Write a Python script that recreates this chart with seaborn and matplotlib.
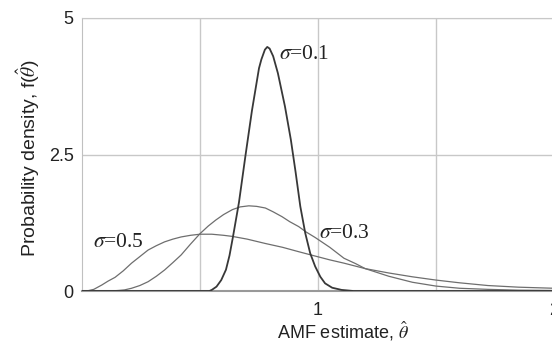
import pandas as pd
import matplotlib
matplotlib.use("Agg")
import matplotlib.pyplot as plt
import seaborn as sns

# values
theta_s01 = [0.00, 0.50, 0.54, 0.55, 0.57, 0.59, 0.61, 0.625, 0.64, 0.665, 0.693, 0.72,
             0.75, 0.76, 0.775, 0.785, 0.795, 0.81, 0.83, 0.86, 0.885, 0.905, 0.925,
             0.946, 0.967, 0.988, 1.01, 1.03, 1.06, 1.10, 1.15, 2.00]
dens_s01 = [0.0, 0.0, 0.0, 0.02, 0.08, 0.2, 0.39, 0.65, 1.0, 1.62, 2.49, 3.3,
            4.08, 4.24, 4.42, 4.47, 4.44, 4.3, 3.99, 3.38, 2.77, 2.18, 1.55,
            1.06, 0.69, 0.45, 0.26, 0.14, 0.06, 0.02, 0.0, 0.0]

theta_s03 = [0.00, 0.12, 0.155, 0.18, 0.21, 0.245, 0.28, 0.315, 0.35, 0.385, 0.42, 0.46,
             0.50, 0.535, 0.567, 0.60, 0.637, 0.67, 0.707, 0.74, 0.777, 0.81, 0.848,
             0.88, 0.918, 0.95, 0.988, 1.05, 1.11, 1.16, 1.20, 1.25, 1.30, 1.40,
             1.50, 1.60, 1.72, 1.85, 2.00]
dens_s03 = [0.0, 0.0, 0.01, 0.02, 0.05, 0.10, 0.17, 0.27, 0.385, 0.52, 0.66, 0.86,
            1.05, 1.19, 1.30, 1.40, 1.49, 1.54, 1.56, 1.55, 1.52, 1.45, 1.36,
            1.27, 1.18, 1.08, 0.98, 0.80, 0.60, 0.50, 0.41, 0.34, 0.27, 0.16,
            0.09, 0.05, 0.03, 0.015, 0.01]

theta_s05 = [0.00, 0.02, 0.05, 0.084, 0.11, 0.14, 0.175, 0.21, 0.245, 0.28, 0.315, 0.35,
             0.385, 0.42, 0.46, 0.50, 0.55, 0.60, 0.637, 0.70, 0.777, 0.85, 0.918,
             0.988, 1.05, 1.11, 1.20, 1.30, 1.40, 1.50, 1.60, 1.72, 1.85, 2.00]
dens_s05 = [0.0, 0.0, 0.03, 0.11, 0.18, 0.25, 0.37, 0.51, 0.63, 0.75, 0.83, 0.90,
            0.95, 0.99, 1.02, 1.04, 1.04, 1.02, 1.00, 0.95, 0.87, 0.80, 0.72,
            0.64, 0.57, 0.51, 0.41, 0.33, 0.26, 0.20, 0.15, 0.10, 0.07, 0.05]

curve_labels = ["0.1", "0.3", "0.5"]
label_pos = [(0.834, 4.33), (1.006, 1.06), (0.046, 0.88)]

x_ticks = [0.5, 1, 1.5, 2]
x_ticklabels = ["", "1", "", "2"]
y_ticks = [0, 2.5, 5]
y_ticklabels = ["0", "2.5", "5"]

sns.set_style("white")
plt.rcParams['font.family'] = ['Liberation Sans', 'DejaVu Sans']
plt.rcParams['mathtext.fontset'] = 'stix'

fig = plt.figure(figsize=(5.52, 3.43), dpi=100)
ax = fig.add_axes([82 / 552, 52 / 343, 472 / 552, 273 / 343])

df01 = pd.DataFrame({'theta': theta_s01, 'dens': dens_s01})
df03 = pd.DataFrame({'theta': theta_s03, 'dens': dens_s03})
df05 = pd.DataFrame({'theta': theta_s05, 'dens': dens_s05})

sns.lineplot(data=df05, x='theta', y='dens', ax=ax, color='#6e6e6e', lw=0.9, sort=False, zorder=3)
sns.lineplot(data=df03, x='theta', y='dens', ax=ax, color='#6e6e6e', lw=0.9, sort=False, zorder=3)
sns.lineplot(data=df01, x='theta', y='dens', ax=ax, color='#383838', lw=1.3, sort=False, zorder=4)

for lab, (tx, ty) in zip(curve_labels, label_pos):
    ax.text(tx, ty, r'$\sigma$=' + lab, fontsize=15.5, family='Liberation Serif',
            va='center', ha='left', color='#222222')

ax.set_xlim(0, 2)
ax.set_ylim(0, 5)
ax.set_xticks(x_ticks)
ax.set_xticklabels(x_ticklabels)
ax.set_yticks(y_ticks)
ax.set_yticklabels(y_ticklabels)
ax.tick_params(axis='x', length=4, width=1, color='#999999', pad=4, labelsize=13, labelcolor='#222222')
ax.tick_params(axis='y', length=3, width=1, color='#bbbbbb', pad=3, labelsize=13, labelcolor='#222222')

ax.grid(True, color='#c8c8c8', lw=1.0)
ax.set_axisbelow(True)
ax.spines['right'].set_visible(False)
ax.spines['top'].set_color('#c8c8c8')
ax.spines['left'].set_color('#c0c0c0')
ax.spines['bottom'].set_color('#999999')
ax.spines['bottom'].set_linewidth(1.5)
ax.set_xlabel('')
ax.set_ylabel('')

fig.text(343 / 552, 1 - 331 / 343, r'AMF estimate, $\hat{\theta}$', fontsize=13,
         ha='center', va='center', color='#222222')
fig.text(28 / 552, 1 - 158 / 343, r'Probability density, f($\hat{\theta}$)', fontsize=14,
         ha='center', va='center', rotation=90, color='#222222')

fig.savefig('out.png', dpi=100)
